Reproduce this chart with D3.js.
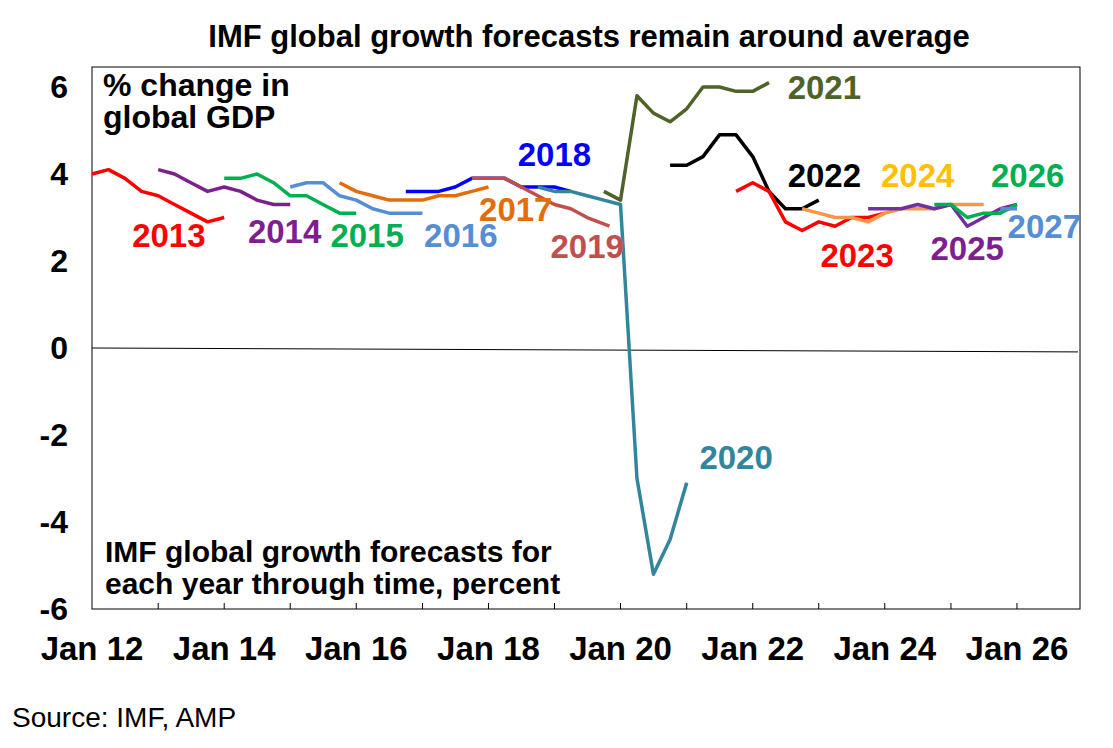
<!DOCTYPE html>
<html><head><meta charset="utf-8">
<script src="https://cdn.jsdelivr.net/npm/d3@7"></script>
<style>body{margin:0;background:#fff;font-family:"Liberation Sans",Arial,sans-serif}</style>
</head><body><div id="chart"></div>
<script>
// quarterly WEO vintages, values in % per forecast year
const f2013 = [["2012-01",4.0],["2012-04",4.1],["2012-07",3.9],["2012-10",3.6],["2013-01",3.5],["2013-04",3.3],["2013-07",3.1],["2013-10",2.9],["2014-01",3.0]];
const f2014 = [["2013-01",4.1],["2013-04",4.0],["2013-07",3.8],["2013-10",3.6],["2014-01",3.7],["2014-04",3.6],["2014-07",3.4],["2014-10",3.3],["2015-01",3.3]];
const f2015 = [["2014-01",3.9],["2014-04",3.9],["2014-07",4.0],["2014-10",3.8],["2015-01",3.5],["2015-04",3.5],["2015-07",3.3],["2015-10",3.1],["2016-01",3.1]];
const f2016 = [["2015-01",3.7],["2015-04",3.8],["2015-07",3.8],["2015-10",3.5],["2016-01",3.4],["2016-04",3.2],["2016-07",3.1],["2016-10",3.1],["2017-01",3.1]];
const f2017 = [["2015-10",3.8],["2016-01",3.6],["2016-04",3.5],["2016-07",3.4],["2016-10",3.4],["2017-01",3.4],["2017-04",3.5],["2017-07",3.5],["2017-10",3.6],["2018-01",3.7]];
const f2018 = [["2016-10",3.6],["2017-01",3.6],["2017-04",3.6],["2017-07",3.7],["2017-10",3.9],["2018-01",3.9],["2018-04",3.9],["2018-07",3.7],["2018-10",3.7],["2019-01",3.7],["2019-04",3.6]];
const f2019 = [["2017-10",3.9],["2018-01",3.9],["2018-04",3.9],["2018-07",3.7],["2018-10",3.5],["2019-01",3.3],["2019-04",3.2],["2019-07",3.0],["2019-11",2.8]];
const f2020 = [["2018-10",3.7],["2019-01",3.6],["2019-04",3.6],["2019-07",3.5],["2019-10",3.4],["2020-01",3.3],["2020-04",-3.0],["2020-07",-5.2],["2020-10",-4.4],["2021-01",-3.1]];
const f2021 = [["2019-10",3.6],["2020-01",3.4],["2020-04",5.8],["2020-07",5.4],["2020-10",5.2],["2021-01",5.5],["2021-04",6.0],["2021-07",6.0],["2021-10",5.9],["2022-01",5.9],["2022-04",6.1]];
const f2022 = [["2020-10",4.2],["2021-01",4.2],["2021-04",4.4],["2021-07",4.9],["2021-10",4.9],["2022-01",4.4],["2022-04",3.6],["2022-07",3.2],["2022-10",3.2],["2023-01",3.4]];
const f2023 = [["2021-10",3.6],["2022-01",3.8],["2022-04",3.6],["2022-07",2.9],["2022-10",2.7],["2023-01",2.9],["2023-04",2.8],["2023-07",3.0],["2023-10",3.0],["2024-01",3.1]];
const f2024 = [["2022-10",3.2],["2023-01",3.1],["2023-04",3.0],["2023-07",3.0],["2023-10",2.9],["2024-01",3.1],["2024-04",3.2],["2024-07",3.2],["2024-10",3.2],["2025-01",3.3],["2025-04",3.3],["2025-07",3.3]];
const f2025 = [["2023-10",3.2],["2024-01",3.2],["2024-04",3.2],["2024-07",3.3],["2024-10",3.2],["2025-01",3.3],["2025-04",2.8],["2025-07",3.0],["2025-10",3.2],["2026-01",3.3]];
const f2026 = [["2024-10",3.3],["2025-01",3.3],["2025-04",3.0],["2025-07",3.1],["2025-10",3.1],["2026-01",3.3]];
const f2027 = [["2025-10",3.2],["2026-01",3.2]];

const series = [
  {name:"2013", data:f2013, color:"#ff0000", label:"#ff0000", lx:"2013-03", ly:2.6},
  {name:"2014", data:f2014, color:"#7f1f8f", label:"#7f1f8f", lx:"2014-12", ly:2.7},
  {name:"2015", data:f2015, color:"#00b050", label:"#00b050", lx:"2016-03", ly:2.6},
  {name:"2016", data:f2016, color:"#558ed5", label:"#558ed5", lx:"2017-08", ly:2.6},
  {name:"2017", data:f2017, color:"#e46c0a", label:"#e46c0a", lx:"2018-06", ly:3.2},
  {name:"2018", data:f2018, color:"#0000ff", label:"#0000ff", lx:"2019-01", ly:4.45},
  {name:"2019", data:f2019, color:"#c0504d", label:"#c0504d", lx:"2019-07", ly:2.35},
  {name:"2020", data:f2020, color:"#31859c", label:"#31859c", lx:"2021-10", ly:-2.5},
  {name:"2021", data:f2021, color:"#4f6228", label:"#4f6228", lx:"2023-02", ly:6.0},
  {name:"2022", data:f2022, color:"#000000", label:"#000000", lx:"2023-02", ly:3.98},
  {name:"2023", data:f2023, color:"#ff0000", label:"#ff0000", lx:"2023-08", ly:2.14},
  {name:"2024", data:f2024, color:"#f79646", label:"#ffc000", lx:"2024-07", ly:3.98},
  {name:"2025", data:f2025, color:"#7030a0", label:"#7f1f8f", lx:"2025-04", ly:2.3},
  {name:"2026", data:f2026, color:"#00b050", label:"#00b050", lx:"2026-03", ly:3.98},
  {name:"2027", data:f2027, color:"#558ed5", label:"#558ed5", lx:"2026-06", ly:2.8}
];
const yTicks = [-6,-4,-2,0,2,4,6];
const xTickYears = [2012,2014,2016,2018,2020,2022,2024,2026];

const W = 1113, H = 748;
const m = {l:92, r:1080, t:67, b:609};
const parse = d3.timeParse("%Y-%m");
const x = d3.scaleTime().domain([new Date(2012,0,1), new Date(2027,0,1)]).range([m.l, m.r+3]);
const y = d3.scaleLinear().domain([-6,6.46]).range([m.b, m.t]);

const svg = d3.select("#chart").append("svg").attr("width",W).attr("height",H);
const bold = "bold";

svg.append("text").attr("x",589).attr("y",47).attr("text-anchor","middle")
  .attr("font-size",31).attr("font-weight",bold).text("IMF global growth forecasts remain around average");

svg.append("rect").attr("x",m.l).attr("y",m.t).attr("width",m.r-m.l).attr("height",m.b-m.t)
  .attr("fill","none").attr("stroke","#000").attr("stroke-width",1);

// zero line (drawn slightly sloped as in the original)
svg.append("line").attr("x1",m.l).attr("x2",m.r-2).attr("y1",y(0)).attr("y2",y(-0.09))
  .attr("stroke","#000").attr("stroke-width",1);

svg.append("g").selectAll("text").data(yTicks).join("text")
  .attr("x",68).attr("y",d=>y(d)+11).attr("text-anchor","end")
  .attr("font-size",32).attr("font-weight",bold).text(d=>d);

svg.append("g").selectAll("line").data(d3.range(2013,2027)).join("line")
  .attr("x1",d=>x(new Date(d,0,1))).attr("x2",d=>x(new Date(d,0,1)))
  .attr("y1",m.b).attr("y2",m.b-6).attr("stroke","#000");

svg.append("g").selectAll("text").data(xTickYears).join("text")
  .attr("x",d=>x(new Date(d,0,1))).attr("y",660).attr("text-anchor","middle")
  .attr("font-size",33).attr("font-weight",bold).text(d=>"Jan "+String(d).slice(2));

const line = d3.line().x(d=>x(parse(d[0]))).y(d=>y(d[1]));
svg.append("g").selectAll("path").data(series).join("path")
  .attr("d",d=>line(d.data)).attr("fill","none")
  .attr("stroke",d=>d.color).attr("stroke-width",3.5).attr("stroke-linejoin","round");

svg.append("g").selectAll("text").data(series).join("text")
  .attr("x",d=>x(parse(d.lx))).attr("y",d=>y(d.ly)+12).attr("text-anchor","middle")
  .attr("font-size",33).attr("font-weight",bold).attr("fill",d=>d.label).text(d=>d.name);

const note = (lines, x0, y0, fs, dy) => lines.forEach((t,i) =>
  svg.append("text").attr("x",x0).attr("y",y0+i*dy).attr("font-size",fs).attr("font-weight",bold).text(t));
note(["% change in","global GDP"], 103, 96, 32, 32);
note(["IMF global growth forecasts for","each year through time, percent"], 105, 562, 30, 32);

svg.append("text").attr("x",12).attr("y",727).attr("font-size",28).text("Source: IMF, AMP");
</script></body></html>
